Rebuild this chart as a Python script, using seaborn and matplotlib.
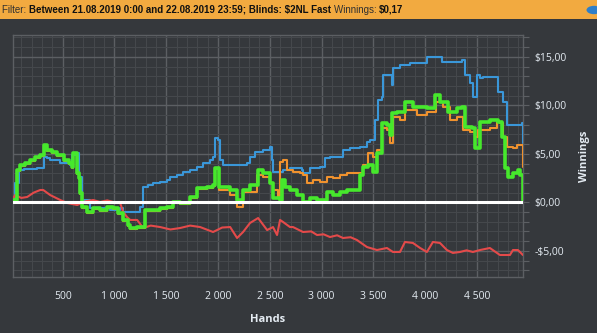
import matplotlib
matplotlib.use("Agg")
import matplotlib.pyplot as plt
import matplotlib.ticker as mticker
import matplotlib.patches as mpatches
import numpy as np
import pandas as pd
import seaborn as sns

# ---------------- data ----------------
green_hands = [22, 32, 58, 90, 138, 186, 235, 283, 315, 347, 396, 444, 508, 556, 589, 598, 620, 637,
               653, 669, 685, 733, 797, 862, 926, 990, 1038, 1087, 1135, 1152, 1219, 1277, 1296,
               1373, 1441, 1508, 1567, 1634, 1730, 1798, 1895, 1952, 1972, 1991, 2010, 2117, 2184,
               2242, 2309, 2387, 2435, 2502, 2531, 2599, 2618, 2647, 2695, 2763, 2821, 2888, 2956,
               3052, 3110, 3178, 3245, 3342, 3371, 3400, 3448, 3500, 3535, 3583, 3631, 3660, 3680,
               3728, 3805, 3882, 4017, 4094, 4143, 4220, 4307, 4355, 4384, 4452, 4481, 4529, 4625,
               4703, 4741, 4770, 4800, 4848, 4896, 4915, 4944]
green_vals = [0.2, 0.2, 3.3, 3.85, 4.05, 4.36, 4.67, 4.88, 5.91, 5.39, 5.19, 4.88, 4.36, 4.05, 3.64,
              5.08, 5.08, 3.02, 2.51, 0.96, -0.48, -1.0, -0.59, -0.79, -0.48, -0.59, -1.1, -1.82,
              -2.34, -2.65, -2.55, -2.55, -0.79, -0.79, -0.59, -0.48, 0.03, -0.07, 0.55, 1.47, 1.58,
              1.78, 3.54, 3.54, 1.58, 1.27, 0.24, 1.27, 1.78, 3.33, 3.02, 1.99, 0.44, 0.24, 2.3, 1.58,
              1.27, 0.75, 0.03, 0.44, 0.24, 1.06, 0.75, 1.06, 1.27, 1.27, 2.81, 3.64, 3.85, 3.12,
              5.08, 8.18, 7.97, 6.94, 9.21, 9.31, 10.34, 9.82, 9.72, 11.06, 10.34, 9.31, 9.72, 9.82,
              7.76, 7.66, 5.59, 8.28, 8.48, 8.28, 6.73, 3.54, 2.61, 3.02, 3.33, 2.81, 0.2]

orange_hands = [22, 32, 58, 90, 138, 186, 235, 283, 315, 347, 396, 444, 508, 556, 589, 598, 620, 637,
                653, 669, 685, 733, 797, 862, 926, 990, 1038, 1087, 1135, 1152, 1219, 1277, 1296,
                1373, 1441, 1508, 1567, 1634, 1730, 1798, 1895, 1952, 1972, 1991, 2010, 2117, 2184,
                2242, 2377, 2435, 2502, 2531, 2575, 2599, 2628, 2666, 2724, 2792, 2821, 2859, 2917,
                2985, 3052, 3110, 3178, 3245, 3342, 3400, 3448, 3496, 3535, 3583, 3631, 3660, 3689,
                3757, 3805, 3920, 4017, 4104, 4172, 4239, 4307, 4355, 4365, 4432, 4481, 4510, 4625,
                4693, 4722, 4751, 4790, 4848, 4886, 4925, 4944]
orange_vals = [0.2, 0.2, 3.2, 3.75, 3.95, 4.26, 4.57, 4.78, 5.8, 5.3, 5.1, 4.78, 4.26, 3.95, 3.54,
               4.98, 4.98, 2.92, 2.41, 0.86, -0.58, -1.1, -0.69, -0.89, -0.58, -0.69, -1.2, -1.92,
               -2.44, -2.75, -2.65, -2.65, -0.89, -0.89, -0.69, -0.58, -0.07, -0.17, 0.45, 1.37, 1.48,
               1.68, 3.44, 3.44, 1.27, 0.75, -0.48, 1.06, 2.81, 2.61, 1.99, 1.27, 0.44, 4.15, 4.36,
               3.33, 3.12, 3.02, 2.81, 1.99, 2.3, 2.09, 2.61, 2.51, 2.81, 3.02, 3.02, 3.85, 5.08, 4.67,
               5.39, 7.66, 7.45, 6.11, 8.79, 8.48, 9.52, 9.0, 9.31, 10.34, 9.82, 8.48, 8.79, 8.79, 7.45,
               7.25, 6.73, 7.45, 7.66, 8.28, 8.18, 6.73, 5.7, 5.59, 5.91, 5.91, 3.64]

blue_hands = [22, 41, 74, 122, 218, 251, 315, 347, 379, 476, 572, 589, 637, 653, 685, 765, 958, 1055,
              1084, 1152, 1248, 1280, 1325, 1373, 1441, 1508, 1537, 1605, 1663, 1730, 1798, 1856,
              1924, 1952, 1972, 2001, 2020, 2049, 2213, 2280, 2309, 2358, 2435, 2502, 2522, 2531,
              2628, 2695, 2811, 2821, 2869, 2888, 2985, 3033, 3081, 3207, 3274, 3371, 3400, 3438,
              3467, 3515, 3545, 3583, 3593, 3660, 3680, 3689, 3757, 3853, 3950, 4017, 4113, 4162,
              4239, 4336, 4355, 4384, 4432, 4461, 4500, 4529, 4558, 4693, 4703, 4751, 4790, 4848,
              4934, 4944]
blue_vals = [0.2, 1.99, 3.33, 3.43, 3.43, 3.54, 4.67, 4.57, 4.36, 4.05, 3.85, 4.88, 5.08, 2.61, 0.24,
             -0.59, -0.79, -0.59, -1.0, -1.0, -0.48, 1.58, 1.78, 1.99, 2.09, 2.3, 2.61, 2.81, 3.12,
             3.33, 3.64, 4.05, 4.36, 4.67, 6.63, 6.42, 4.36, 3.85, 3.85, 4.05, 4.67, 5.19, 5.39, 5.7,
             4.36, 3.12, 3.33, 3.54, 3.33, 3.02, 3.02, 3.54, 3.64, 4.57, 4.67, 5.39, 5.59, 5.7, 5.7,
             6.22, 6.42, 8.48, 10.55, 10.86, 13.12, 13.12, 12.09, 13.85, 14.15, 14.36, 14.36, 14.98,
             14.98, 14.46, 14.46, 14.46, 14.67, 13.12, 12.3, 10.86, 13.12, 12.81, 12.92, 12.92, 11.37,
             10.34, 7.97, 7.97, 8.18, 6.11]

red_hands = [22, 41, 100, 157, 220, 283, 312, 379, 476, 543, 640, 720, 794, 862, 930, 987, 1055, 1084,
             1122, 1152, 1219, 1277, 1350, 1441, 1540, 1634, 1730, 1827, 1952, 2040, 2117, 2184, 2242,
             2309, 2387, 2474, 2531, 2570, 2599, 2628, 2695, 2724, 2821, 2900, 2956, 3020, 3081, 3150,
             3207, 3280, 3342, 3438, 3535, 3631, 3689, 3757, 3805, 3882, 3950, 4017, 4075, 4143, 4210,
             4268, 4336, 4400, 4461, 4529, 4625, 4722, 4819, 4848, 4896, 4944]
red_vals = [0.44, 0.75, 0.45, 0.55, 1.0, 1.27, 1.27, 0.75, 0.24, -0.07, -0.28, 0.1, 0.24, 0.03, 0.2,
            0.03, -0.07, -1.0, -1.52, -1.82, -1.82, -2.65, -2.4, -2.55, -2.8, -2.65, -2.4, -2.55,
            -3.06, -2.6, -2.55, -3.68, -3.06, -2.13, -1.62, -2.86, -2.55, -3.37, -1.82, -2.03, -2.55,
            -2.55, -3.06, -3.0, -3.37, -3.3, -3.58, -3.4, -3.68, -3.6, -3.89, -4.61, -4.92, -4.71,
            -5.12, -5.12, -4.09, -4.19, -4.7, -5.12, -4.09, -4.19, -4.92, -5.22, -5.12, -4.95, -5.12,
            -4.92, -4.71, -5.43, -5.43, -4.92, -4.92, -5.43]

x_ticks = [500, 1000, 1500, 2000, 2500, 3000, 3500, 4000, 4500]
x_tick_labels = ["500", "1 000", "1 500", "2 000", "2 500", "3 000", "3 500", "4 000", "4 500"]
y_ticks = [-5, 0, 5, 10, 15]
y_tick_labels = ["-$5,00", "$0,00", "$5,00", "$10,00", "$15,00"]

# ---------------- style ----------------
BG = "#35383c"
GRID_MAJOR = "#5c5f63"
GRID_MINOR = "#45484c"
TXT = "#e4ebf2"

sns.set_theme(style="dark", rc={"axes.facecolor": BG, "figure.facecolor": BG})
plt.rcParams["font.family"] = ["Open Sans", "DejaVu Sans"]
plt.rcParams["text.parse_math"] = False

fig = plt.figure(figsize=(5.97, 3.33), dpi=100)
fig.patch.set_facecolor(BG)
W, H = 597, 333
ax = fig.add_axes([13 / W, (H - 277) / H, 510 / W, 242 / H])
ax.set_facecolor(BG)

def frame(h, v):
    return pd.DataFrame({"hands": h, "win": v})

common = dict(x="hands", y="win", ax=ax, estimator=None, sort=False, legend=False)
sns.lineplot(data=frame(blue_hands, blue_vals), color="#3a97d9", linewidth=1.5, zorder=3,
             drawstyle="steps-post", **common)
sns.lineplot(data=frame(red_hands, red_vals), color="#e44a4a", linewidth=1.5, zorder=3, **common)
sns.lineplot(data=frame(orange_hands, orange_vals), color="#f0922e", linewidth=1.5, zorder=4,
             drawstyle="steps-post", **common)
sns.lineplot(data=frame(green_hands, green_vals), color="#46e82c", linewidth=2.6, zorder=5,
             drawstyle="steps-post", **common)
ax.axhline(0, color="white", linewidth=2.2, zorder=6)

ax.set_xlim(20, 4945)
ax.set_ylim(-7.7, 17.25)

ax.set_xticks(x_ticks)
ax.set_xticklabels(x_tick_labels)
ax.set_yticks(y_ticks)
ax.set_yticklabels(y_tick_labels)
ax.xaxis.set_minor_locator(mticker.MultipleLocator(100))
ax.yaxis.set_minor_locator(mticker.MultipleLocator(1))

ax.grid(which="major", color=GRID_MAJOR, linewidth=1.0, zorder=0)
ax.grid(which="minor", color=GRID_MINOR, linewidth=0.8, zorder=0)
ax.set_axisbelow(True)

ax.yaxis.tick_right()
ax.yaxis.set_label_position("right")
ax.tick_params(axis="both", which="both", colors=GRID_MAJOR, labelcolor=TXT, labelsize=7.5,
               direction="out", length=4, width=0.8)
ax.tick_params(axis="x", pad=6)
ax.tick_params(axis="y", pad=4)
for s in ax.spines.values():
    s.set_color(GRID_MAJOR)
    s.set_linewidth(1.0)

ax.set_xlabel("Hands", color=TXT, fontsize=8, fontweight="bold", labelpad=9)
ax.set_ylabel("Winnings", color=TXT, fontsize=8, fontweight="bold", labelpad=9)

# ---------------- header bar ----------------
bar_h = 19 / H
fig.patches.append(mpatches.Rectangle((0, 1 - bar_h), 1, bar_h, transform=fig.transFigure,
                                      facecolor="#f2aa40", edgecolor="none", zorder=0))
fig.patches.append(mpatches.Circle((594 / W, 1 - 10 / H), 7.5 / W, transform=fig.transFigure,
                                   facecolor="#2f7fc8", edgecolor="none", zorder=1))

fig.canvas.draw()
renderer = fig.canvas.get_renderer()
pieces = [("Filter: ", "normal", "#303030"),
          ("Between 21.08.2019 0:00 and 22.08.2019 23:59; Blinds: $2NL Fast ", "bold", "#111111"),
          ("Winnings: ", "normal", "#303030"),
          ("$0,17", "bold", "#111111")]
x0 = 2 / W
for txt, wt, col in pieces:
    t = fig.text(x0, 1 - 10 / H, txt, fontsize=7, fontweight=wt, color=col, va="center", ha="left",
                 family=["Liberation Sans", "DejaVu Sans"])
    bb = t.get_window_extent(renderer)
    x0 = bb.x1 / fig.bbox.width

fig.savefig("out.png", dpi=100, facecolor=BG)
